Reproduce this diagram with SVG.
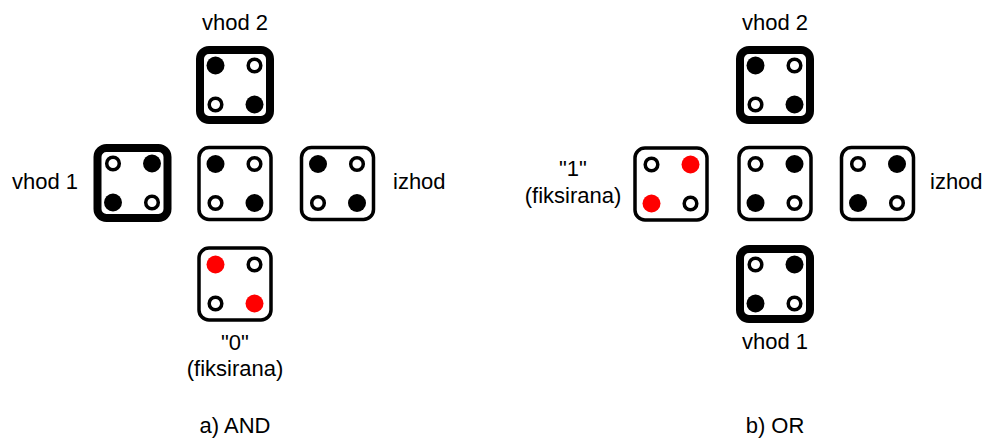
<svg xmlns="http://www.w3.org/2000/svg" width="988" height="439" viewBox="0 0 988 439">
  <defs>
    <style>
      .thick { fill: #fff; stroke: #000; stroke-width: 8; }
      .thin { fill: #fff; stroke: #000; stroke-width: 3.5; }
      .on { fill: #000; }
      .red { fill: #ff0000; }
      .off { fill: #fff; stroke: #000; stroke-width: 3.5; }
      text { font-family: "Liberation Sans", Arial, Helvetica, sans-serif; font-size: 22px; fill: #000; }
      .mid { text-anchor: middle; }
      .end { text-anchor: end; }
    </style>
    <!-- cell frames, centred on the origin -->
    <rect id="frameThick" x="-35" y="-35" width="70" height="70" rx="9"/>
    <rect id="frameThin" x="-36" y="-36" width="72" height="72" rx="10"/>
  </defs>

  <!-- a) AND -->
  <g id="and-vhod2" transform="translate(235,85)">
    <use href="#frameThick" class="thick"/>
    <circle class="on" cx="-19.5" cy="-19.5" r="9"/>
    <circle class="off" cx="19.5" cy="-19.5" r="6.3"/>
    <circle class="off" cx="-19.5" cy="19.5" r="6.3"/>
    <circle class="on" cx="19.5" cy="19.5" r="9"/>
  </g>
  <g id="and-vhod1" transform="translate(132.5,183)">
    <use href="#frameThick" class="thick"/>
    <circle class="off" cx="-19.5" cy="-19.5" r="6.3"/>
    <circle class="on" cx="19.5" cy="-19.5" r="9"/>
    <circle class="on" cx="-19.5" cy="19.5" r="9"/>
    <circle class="off" cx="19.5" cy="19.5" r="6.3"/>
  </g>
  <g id="and-center" transform="translate(235,183.5)">
    <use href="#frameThin" class="thin"/>
    <circle class="on" cx="-19.5" cy="-19.5" r="9"/>
    <circle class="off" cx="19.5" cy="-19.5" r="6.3"/>
    <circle class="off" cx="-19.5" cy="19.5" r="6.3"/>
    <circle class="on" cx="19.5" cy="19.5" r="9"/>
  </g>
  <g id="and-izhod" transform="translate(337.5,183.5)">
    <use href="#frameThin" class="thin"/>
    <circle class="on" cx="-19.5" cy="-19.5" r="9"/>
    <circle class="off" cx="19.5" cy="-19.5" r="6.3"/>
    <circle class="off" cx="-19.5" cy="19.5" r="6.3"/>
    <circle class="on" cx="19.5" cy="19.5" r="9"/>
  </g>
  <g id="and-fixed0" transform="translate(235,284)">
    <use href="#frameThin" class="thin"/>
    <circle class="red" cx="-19.5" cy="-19.5" r="9"/>
    <circle class="off" cx="19.5" cy="-19.5" r="6.3"/>
    <circle class="off" cx="-19.5" cy="19.5" r="6.3"/>
    <circle class="red" cx="19.5" cy="19.5" r="9"/>
  </g>

  <!-- b) OR -->
  <g id="or-vhod2" transform="translate(775,85)">
    <use href="#frameThick" class="thick"/>
    <circle class="on" cx="-19.5" cy="-19.5" r="9"/>
    <circle class="off" cx="19.5" cy="-19.5" r="6.3"/>
    <circle class="off" cx="-19.5" cy="19.5" r="6.3"/>
    <circle class="on" cx="19.5" cy="19.5" r="9"/>
  </g>
  <g id="or-fixed1" transform="translate(671,184)">
    <use href="#frameThin" class="thin"/>
    <circle class="off" cx="-19.5" cy="-19.5" r="6.3"/>
    <circle class="red" cx="19.5" cy="-19.5" r="9"/>
    <circle class="red" cx="-19.5" cy="19.5" r="9"/>
    <circle class="off" cx="19.5" cy="19.5" r="6.3"/>
  </g>
  <g id="or-center" transform="translate(775,183.5)">
    <use href="#frameThin" class="thin"/>
    <circle class="off" cx="-19.5" cy="-19.5" r="6.3"/>
    <circle class="on" cx="19.5" cy="-19.5" r="9"/>
    <circle class="on" cx="-19.5" cy="19.5" r="9"/>
    <circle class="off" cx="19.5" cy="19.5" r="6.3"/>
  </g>
  <g id="or-izhod" transform="translate(877.5,183.5)">
    <use href="#frameThin" class="thin"/>
    <circle class="off" cx="-19.5" cy="-19.5" r="6.3"/>
    <circle class="on" cx="19.5" cy="-19.5" r="9"/>
    <circle class="on" cx="-19.5" cy="19.5" r="9"/>
    <circle class="off" cx="19.5" cy="19.5" r="6.3"/>
  </g>
  <g id="or-vhod1" transform="translate(775,284)">
    <use href="#frameThick" class="thick"/>
    <circle class="off" cx="-19.5" cy="-19.5" r="6.3"/>
    <circle class="on" cx="19.5" cy="-19.5" r="9"/>
    <circle class="on" cx="-19.5" cy="19.5" r="9"/>
    <circle class="off" cx="19.5" cy="19.5" r="6.3"/>
  </g>

  <g id="connectors"/>

  <!-- labels -->
  <g id="labels">
    <text class="mid" x="235" y="30">vhod 2</text>
    <text class="end" x="78" y="189">vhod 1</text>
    <text x="393" y="189">izhod</text>
    <text class="mid" x="235" y="350">"0"</text>
    <text class="mid" x="235" y="376">(fiksirana)</text>
    <text class="mid" x="235" y="433">a) AND</text>

    <text class="mid" x="775" y="30">vhod 2</text>
    <text class="mid" x="573" y="176">"1"</text>
    <text class="mid" x="573" y="203">(fiksirana)</text>
    <text x="930" y="189">izhod</text>
    <text class="mid" x="775" y="349">vhod 1</text>
    <text class="mid" x="775" y="433">b) OR</text>
  </g>
</svg>
